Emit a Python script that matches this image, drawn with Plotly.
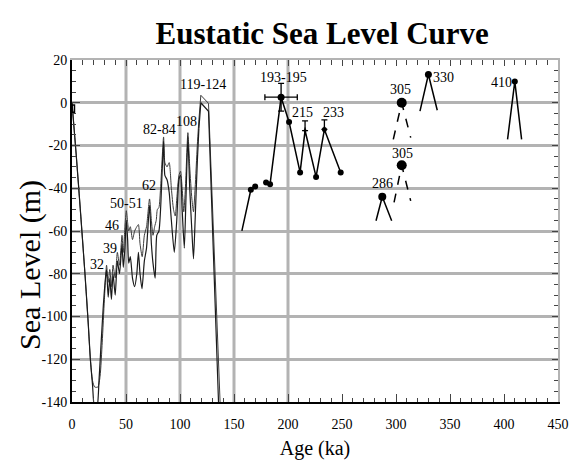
import plotly.graph_objects as go

# ---------------- data ----------------
# Upper envelope of the 0-140 ka sea-level band
AGE_U = [0, 4, 8, 12, 15, 17, 19, 21, 24, 26, 28, 30, 32, 33.5, 35, 36.5, 38, 40, 42, 44,
         46.3, 47.5, 49, 50.3, 51.5, 52.5, 54, 56, 58, 60, 61.5, 63, 65, 67, 69, 71.8,
         73.5, 75, 76.5, 78, 79, 80.5, 82, 84.8, 86, 88, 90, 92, 94, 95.6, 97, 99, 100.5,
         102, 103.5, 105, 107.3, 109, 111, 112.5, 114, 116, 117.5, 119.3, 126.4, 137.5]
LEV_U = [0, -25, -52, -80, -103, -120, -130, -133, -133, -128, -112, -92, -76, -84, -78, -86, -76, -82, -70, -76,
         -62, -70, -58, -50.5, -56, -60, -58, -64, -60, -58, -57, -66, -72, -62, -58, -45,
         -55, -62, -58, -55, -50, -49, -40, -16, -28, -30, -28, -40, -50, -53, -45, -34, -32,
         -40, -51, -40, -14, -30, -45, -51, -40, -20, -8, 3.5, -0.3, -145]
# Lower envelope
AGE_L = [0, 4, 8, 12, 15, 17, 19, 21, 23, 25, 27, 29, 31, 32, 33.5, 35, 36.5, 38, 40, 42, 44,
         46.3, 47.5, 49, 50.3, 51.5, 52.5, 54, 56, 58, 60, 61.5, 63, 64.8, 67, 69, 71.8,
         73.5, 75, 77, 78.5, 80.5, 82, 84.8, 86, 88, 90, 92, 94.7, 97, 99, 100.5,
         102, 104, 105.5, 107.3, 109, 111, 112.5, 114, 116, 117.5, 119.3, 126.4, 136]
LEV_L = [0, -25, -52, -80, -103, -120, -132, -143, -143, -130, -112, -95, -82, -78, -91, -82, -92, -80, -90, -74, -80,
         -66, -77, -68, -55, -64, -75, -72, -82, -86, -80, -70, -80, -87, -74, -68, -48,
         -66, -75, -82, -62, -60, -50, -18, -34, -36, -42, -55, -70, -55, -36, -34,
         -50, -68, -45, -16, -40, -60, -73, -55, -28, -12, 0, -4, -145]
SPLIT_AGE = 117.5   # smooth (wavy) part before, straight segments after

# small box at present day
BOX_AGE = [0, 2.3, 2.3, 0, 0]
BOX_LEV = [-1, -1, -4.5, -4.5, -1]

# dated points 150-250 ka
MID1_AGE = [157.3, 165.6, 169.6]
MID1_LEV = [-59.9, -40.7, -39.2]
MID2_AGE = [179.7, 183.4, 193.6, 201.0, 211.2, 215.8, 226.0, 233.7, 248.8]
MID2_LEV = [-37.3, -38.1, 2.6, -9.0, -32.6, -13.0, -34.7, -12.5, -32.6]

# error bars
ERR_AGE = [193.6, 215.8, 233.7]
ERR_LEV = [2.6, -13.0, -12.5]
ERR_X = [15, 0, 0]
ERR_UP = [6.5, 4.5, 4.5]
ERR_DN = [6.5, 0, 0]

# older highstands (apex + two feet)
PK_AGE = [287.3, 305.3, 305.3, 330.0, 410.0]
PK_LEV = [-44.0, 0.0, -29.2, 13.2, 10.0]
PK_LFOOT_AGE = [281.5, 297.5, 298.2, 322.2, 403.3]
PK_LFOOT_LEV = [-55.2, -17.1, -46.6, -3.9, -17.1]
PK_RFOOT_AGE = [296.0, 313.6, 313.6, 338.2, 416.3]
PK_RFOOT_LEV = [-55.2, -16.3, -45.9, -3.5, -17.1]
PK_DASHED = [False, True, True, False, False]
PK_SIZE = [8, 10, 10, 7, 6]

# labels
LBL_TEXT = ["32", "39", "46", "50-51", "62", "82-84", "108", "119-124",
            "193-195", "215", "233", "286", "305", "305", "330", "410"]
LBL_AGE = [23, 34.8, 37, 50.8, 70.9, 81, 105.7, 121,
           195.8, 213.6, 242, 287.7, 306.2, 304.6, 343.8, 397.8]
LBL_LEV = [-75.8, -68, -57.2, -47, -38.6, -12.4, -8.6, 8.5,
           11.6, -4.7, -4.7, -38, -23.6, 6.2, 11.6, 9.3]

X_TICKS = list(range(0, 451, 50))
Y_TICKS = list(range(-140, 21, 20))
X_GRID = [50, 100, 150, 200]

SERIF = "Liberation Serif, Times New Roman, serif"
INK = "#000000"
CURVE = "#3c3c3c"
GRID = "#b3b3b3"

fig = go.Figure()


def split(ages, levs):
    a1 = [a for a in ages if a <= SPLIT_AGE]
    l1 = levs[:len(a1)]
    return (a1, l1), (ages[len(a1) - 1:], levs[len(a1) - 1:])


for ages, levs, col, w in [(AGE_U, LEV_U, CURVE, 1.0), (AGE_L, LEV_L, "#1a1a1a", 1.2)]:
    (a1, l1), (a2, l2) = split(ages, levs)
    fig.add_trace(go.Scatter(x=a1, y=l1, mode="lines",
                             line=dict(color=col, width=w, shape="spline", smoothing=0.6),
                             hoverinfo="skip"))
    fig.add_trace(go.Scatter(x=a2, y=l2, mode="lines",
                             line=dict(color=col, width=w), hoverinfo="skip"))

fig.add_trace(go.Scatter(x=BOX_AGE, y=BOX_LEV, mode="lines",
                         line=dict(color=INK, width=1.5), hoverinfo="skip"))

MK = dict(color=INK, opacity=1, line=dict(width=0))
fig.add_trace(go.Scatter(x=MID1_AGE, y=MID1_LEV, mode="lines+markers",
                         line=dict(color=INK, width=1.5),
                         marker=dict(MK, size=[0, 6, 6]), hoverinfo="skip"))
fig.add_trace(go.Scatter(x=MID2_AGE, y=MID2_LEV, mode="lines+markers",
                         line=dict(color=INK, width=1.5),
                         marker=dict(MK, size=[6, 6, 7, 6, 6, 3, 6, 5, 6]),
                         hoverinfo="skip"))
fig.add_trace(go.Scatter(x=ERR_AGE, y=ERR_LEV, mode="markers",
                         marker=dict(color=INK, size=1),
                         error_x=dict(type="data", array=ERR_X, color=INK, thickness=1.3, width=3),
                         error_y=dict(type="data", array=ERR_UP, arrayminus=ERR_DN,
                                      color=INK, thickness=1.3, width=3),
                         hoverinfo="skip"))

for i in range(len(PK_AGE)):
    fig.add_trace(go.Scatter(
        x=[PK_LFOOT_AGE[i], PK_AGE[i], PK_RFOOT_AGE[i]],
        y=[PK_LFOOT_LEV[i], PK_LEV[i], PK_RFOOT_LEV[i]],
        mode="lines+markers",
        line=dict(color=INK, width=1.5, dash="dash" if PK_DASHED[i] else "solid"),
        marker=dict(MK, size=[0, PK_SIZE[i], 0]),
        hoverinfo="skip"))

# invisible trace for the mirrored (top/right) axes
fig.add_trace(go.Scatter(x=[0, 450], y=[-140, 20], xaxis="x2", yaxis="y2",
                         mode="markers", marker=dict(size=0, opacity=0),
                         hoverinfo="skip"))

for i, t in enumerate(LBL_TEXT):
    fig.add_annotation(x=LBL_AGE[i], y=LBL_LEV[i], text=t, showarrow=False,
                       font=dict(family=SERIF, size=14, color=INK))

# y-axis title, placed as rotated text
fig.add_annotation(text="Sea Level (m)", xref="paper", yref="paper",
                   x=-0.085, y=0.40, textangle=-90, showarrow=False,
                   xanchor="center", yanchor="middle",
                   font=dict(family=SERIF, size=30, color=INK))

for g in X_GRID:
    fig.add_shape(type="line", xref="x", yref="paper", x0=g, x1=g, y0=0, y1=1,
                  line=dict(color=GRID, width=3), layer="below")

fig.update_layout(
    width=584, height=462,
    margin=dict(l=64, r=34, t=52, b=68),
    paper_bgcolor="white", plot_bgcolor="white",
    showlegend=False,
    title=dict(text="<b>Eustatic Sea Level Curve</b>", x=0.538, xanchor="center",
               y=0.946, yanchor="middle",
               font=dict(family=SERIF, size=31, color="black")),
    xaxis=dict(range=[0, 450], tickvals=X_TICKS, ticktext=[str(v) for v in X_TICKS],
               showgrid=False, zeroline=False, automargin=False,
               showline=True, linecolor=INK, linewidth=2,
               ticks="inside", ticklen=8, tickcolor="#444", tickwidth=1,
               ticklabelstandoff=8,
               minor=dict(ticks="inside", dtick=10, ticklen=4, tickcolor="#444", showgrid=False),
               tickfont=dict(family=SERIF, size=14, color=INK),
               title=dict(text="Age (ka)", font=dict(family=SERIF, size=20, color=INK), standoff=10)),
    yaxis=dict(range=[-140, 20], tickvals=Y_TICKS, ticktext=[str(v) for v in Y_TICKS],
               showgrid=True, gridcolor=GRID, gridwidth=3, automargin=False,
               zeroline=False, showline=True, linecolor=INK, linewidth=2,
               ticks="inside", ticklen=8, tickcolor="#444", tickwidth=1,
               minor=dict(ticks="inside", dtick=5, ticklen=4, tickcolor="#444", showgrid=False),
               tickfont=dict(family=SERIF, size=14, color=INK)),
    xaxis2=dict(range=[0, 450], overlaying="x", side="top", showgrid=False, zeroline=False,
                showline=True, linecolor=GRID, linewidth=2, showticklabels=False, automargin=False,
                tickvals=X_TICKS, ticks="inside", ticklen=6, tickcolor="#444",
                minor=dict(ticks="inside", dtick=10, ticklen=5, tickcolor="#444")),
    yaxis2=dict(range=[-140, 20], overlaying="y", side="right", showgrid=False, zeroline=False,
                showline=True, linecolor=GRID, linewidth=2, showticklabels=False, automargin=False,
                tickvals=Y_TICKS, ticks="inside", ticklen=6, tickcolor="#444",
                minor=dict(ticks="inside", dtick=5, ticklen=4, tickcolor="#444")),
)

fig.write_html("out.html")
